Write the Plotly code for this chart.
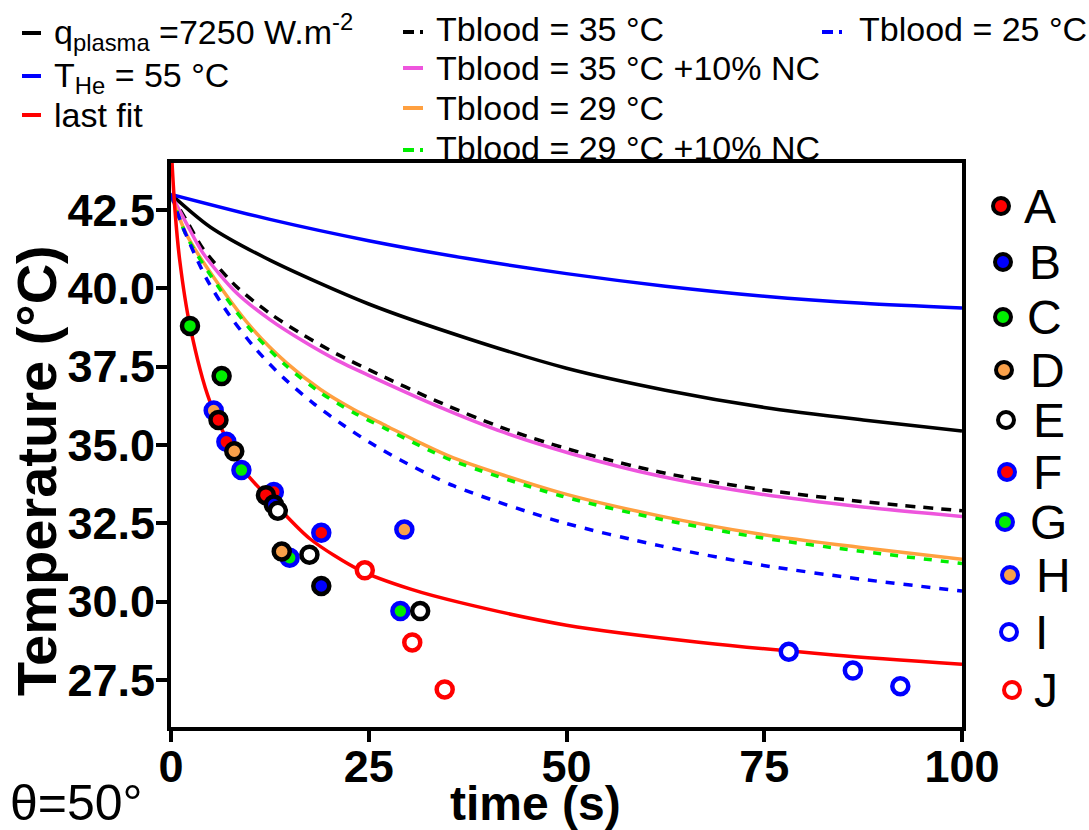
import plotly.graph_objects as go

# ---------------- data ----------------
t_he = [0, 12.5, 25, 37.5, 50, 62.5, 75, 87.5, 100]
T_he = [43.0, 42.2, 41.52, 40.95, 40.47, 40.07, 39.75, 39.52, 39.37]

t_q = [0, 5, 12.5, 25, 37.5, 50, 62.5, 75, 87.5, 100]
T_q = [43.0, 41.95, 40.9, 39.5, 38.4, 37.45, 36.75, 36.2, 35.8, 35.45]

t_35 = [0, 2, 4.1, 8.3, 12.5, 16.8, 21.0, 25.2, 33.6, 42.1, 50.5, 61.9, 74.6, 87.2, 100]
T_35 = [43.0, 42.15, 41.25, 40.05, 39.2, 38.5, 37.9, 37.38, 36.4, 35.53, 34.85, 34.13, 33.58, 33.2, 32.9]
T_35nc = [43.0, 42.05, 41.1, 39.85, 39.0, 38.3, 37.7, 37.2, 36.25, 35.4, 34.73, 34.0, 33.43, 33.03, 32.72]

t_29 = [0, 2.0, 6.2, 10.4, 14.6, 18.9, 23.1, 27.3, 31.5, 35.7, 49.2, 61.9, 74.6, 87.2, 100]
T_29 = [43.0, 41.7, 40.06, 38.68, 37.62, 36.77, 36.13, 35.6, 35.07, 34.59, 33.48, 32.73, 32.15, 31.73, 31.35]
T_29nc = [43.0, 41.65, 39.97, 38.58, 37.52, 36.67, 36.03, 35.5, 34.97, 34.49, 33.38, 32.63, 32.04, 31.61, 31.22]

t_25 = [0, 1.5, 4.5, 7.5, 10.8, 14.2, 18.0, 21.8, 25.2, 29.0, 35.7, 49.2, 61.9, 74.6, 87.2, 100]
T_25 = [43.0, 41.95, 40.3, 39.1, 38.04, 37.15, 36.33, 35.63, 35.07, 34.52, 33.7, 32.55, 31.78, 31.17, 30.72, 30.34]

t_fit = [0, 0.5, 1.1, 2.4, 4.9, 9.2, 13.4, 17.6, 23.9, 30.3, 36.6, 50, 67, 83.8, 100]
T_fit = [44.6, 42.5, 40.9, 38.8, 36.4, 34.2, 33.05, 32.0, 31.0, 30.4, 29.97, 29.25, 28.7, 28.3, 28.0]

# measured points (time s, temperature °C)
A_t, A_T = [6.0, 12.0], [35.8, 33.4]
B_t, B_T = [13.0, 19.0], [33.1, 30.5]
C_t, C_T = [2.4, 6.4], [38.8, 37.2]
D_t, D_T = [8.0, 14.0], [34.8, 31.6]
E_t, E_T = [13.5, 17.5, 31.5], [32.9, 31.5, 29.7]
F_t, F_T = [7.0, 13.0, 19.0], [35.1, 33.5, 32.2]
G_t, G_T = [8.9, 15.0, 29.0], [34.2, 31.4, 29.7]
H_t, H_T = [5.4, 29.5], [36.1, 32.3]
I_t, I_T = [78.1, 86.2, 92.2], [28.4, 27.8, 27.3]
J_t, J_T = [24.5, 30.5, 34.6], [31.0, 28.7, 27.2]

x_ticks = [0, 25, 50, 75, 100]
y_ticks = [27.5, 30.0, 32.5, 35.0, 37.5, 40.0, 42.5]

# ---------------- styling ----------------
RED = "#ff0000"
BLUE = "#0000ff"
GREEN = "#00ee00"
ORANGE = "#f9a04a"
PINK = "#ee55dd"
LORANGE = "#ffa040"
BLACK = "#000000"
WHITE = "#ffffff"
FONT = "Liberation Sans, Arial, sans-serif"

W, H = 1089, 830
ML, MR, MT, MB = 171, 127, 163, 103
PW, PH = W - ML - MR, H - MT - MB


def px(x):
    return (x - ML) / PW


def py(y):
    return (H - MB - y) / PH


fig = go.Figure()

curves = [
    ("q<sub>plasma</sub> =7250 W.m<sup>-2</sup>", t_q, T_q, BLACK, "solid"),
    ("T<sub>He</sub> = 55 °C", t_he, T_he, BLUE, "solid"),
    ("Tblood = 35 °C", t_35, T_35, BLACK, "10px,8px"),
    ("Tblood = 35 °C +10% NC", t_35, T_35nc, PINK, "solid"),
    ("Tblood = 29 °C", t_29, T_29, LORANGE, "solid"),
    ("Tblood = 29 °C +10% NC", t_29, T_29nc, GREEN, "8px,9px"),
    ("Tblood = 25 °C", t_25, T_25, BLUE, "9px,9px"),
    ("last fit", t_fit, T_fit, RED, "solid"),
]
for name, xs, ys, col, dash in curves:
    fig.add_trace(go.Scatter(
        x=xs, y=ys, mode="lines", name=name, showlegend=False,
        line=dict(color=col, width=3.5, dash=dash, shape="spline", smoothing=0.8),
    ))

points = {
    "A": (A_t, A_T, BLACK, RED),
    "B": (B_t, B_T, BLACK, BLUE),
    "C": (C_t, C_T, BLACK, GREEN),
    "D": (D_t, D_T, BLACK, ORANGE),
    "E": (E_t, E_T, BLACK, WHITE),
    "F": (F_t, F_T, BLUE, RED),
    "G": (G_t, G_T, BLUE, GREEN),
    "H": (H_t, H_T, BLUE, ORANGE),
    "I": (I_t, I_T, BLUE, WHITE),
    "J": (J_t, J_T, RED, WHITE),
}
draw_order = ["F", "G", "H", "I", "J", "A", "B", "C", "D", "E"]
for k in draw_order:
    xs, ys, lc, fc = points[k]
    fig.add_trace(go.Scatter(
        x=xs, y=ys, mode="markers", name=k, showlegend=False, cliponaxis=False,
        marker=dict(size=16, color=fc, line=dict(color=lc, width=4.5)),
    ))

shapes = []
annotations = []

# ---- top legends (short line samples + text) ----
top_items = [
    (22, 41, 33, 52, 32, BLACK, "solid", "q<sub>plasma</sub> =7250 W.m<sup>-2</sup>"),
    (22, 41, 76, 52, 78, BLUE, "solid", "T<sub>He</sub> = 55 °C"),
    (22, 41, 115, 52, 115, RED, "solid", "last fit"),
    (403, 423, 32, 434, 29, BLACK, "11px,6px", "Tblood = 35 °C"),
    (403, 423, 68, 434, 68, PINK, "solid", "Tblood = 35 °C +10% NC"),
    (403, 423, 108, 434, 108, LORANGE, "solid", "Tblood = 29 °C"),
    (403, 423, 150, 434, 148, GREEN, "11px,6px", "Tblood = 29 °C +10% NC"),
    (822, 842, 32, 857, 29, BLUE, "11px,6px", "Tblood = 25 °C"),
]
for x0, x1, yl, xt, yt, col, dash, txt in top_items:
    shapes.append(dict(type="line", xref="paper", yref="paper",
                       x0=px(x0), x1=px(x1), y0=py(yl), y1=py(yl),
                       line=dict(color=col, width=4, dash=dash)))
    annotations.append(dict(xref="paper", yref="paper", x=px(xt), y=py(yt),
                            text=txt, showarrow=False, xanchor="left", yanchor="middle",
                            font=dict(family=FONT, size=34, color=BLACK)))

# ---- right legend (A..J) ----
leg_pos = {
    "A": (1001, 206, 1022), "B": (1003, 262, 1027), "C": (1003, 317, 1025),
    "D": (1004, 370, 1028), "E": (1006, 420, 1031), "F": (1007, 472, 1031),
    "G": (1005, 522, 1028), "H": (1010, 575, 1034), "I": (1009, 632, 1033),
    "J": (1012, 690, 1032),
}
for k in ["A", "B", "C", "D", "E", "F", "G", "H", "I", "J"]:
    mx, my, tx = leg_pos[k]
    _, _, lc, fc = points[k]
    shapes.append(dict(type="circle", xref="paper", yref="paper",
                       xsizemode="pixel", ysizemode="pixel",
                       xanchor=px(mx), yanchor=py(my), x0=-8, x1=8, y0=-8, y1=8,
                       fillcolor=fc, line=dict(color=lc, width=4)))
    annotations.append(dict(xref="paper", yref="paper", x=px(tx), y=py(my),
                            text=k, showarrow=False, xanchor="left", yanchor="middle",
                            font=dict(family=FONT, size=48, color=BLACK)))

# ---- axis titles and angle note ----
annotations.append(dict(xref="paper", yref="paper", x=px(535), y=py(803),
                        text="<b>time (s)</b>", showarrow=False,
                        xanchor="center", yanchor="middle",
                        font=dict(family=FONT, size=48, color=BLACK)))
annotations.append(dict(xref="paper", yref="paper", x=px(36), y=py(471),
                        text="<b>Temperature (°C)</b>", showarrow=False, textangle=-90,
                        xanchor="center", yanchor="middle",
                        font=dict(family=FONT, size=56, color=BLACK)))
annotations.append(dict(xref="paper", yref="paper", x=px(8), y=py(803),
                        text="θ=50°", showarrow=False,
                        xanchor="left", yanchor="middle",
                        font=dict(family=FONT, size=50, color=BLACK)))

axis_common = dict(
    showgrid=False, zeroline=False, showline=True, linecolor=BLACK, linewidth=4,
    mirror=True, ticks="outside", ticklen=11, tickwidth=4, tickcolor=BLACK,
    tickfont=dict(family=FONT, size=45, color=BLACK, weight="bold"),
)

fig.update_layout(
    width=W, height=H,
    margin=dict(l=ML, r=MR, t=MT, b=MB),
    paper_bgcolor=WHITE, plot_bgcolor=WHITE,
    showlegend=False,
    xaxis=dict(range=[0, 100], tickvals=x_ticks, ticktext=[str(v) for v in x_ticks],
               ticklabelstandoff=-14, **axis_common),
    yaxis=dict(range=[26.0, 44.0], tickvals=y_ticks, ticktext=[f"{v:.1f}" for v in y_ticks],
               ticklabelstandoff=-8, **axis_common),
    shapes=shapes,
    annotations=annotations,
)

fig.write_html("out.html", config={"displayModeBar": False},
               post_script="document.body.style.margin='0px';")
